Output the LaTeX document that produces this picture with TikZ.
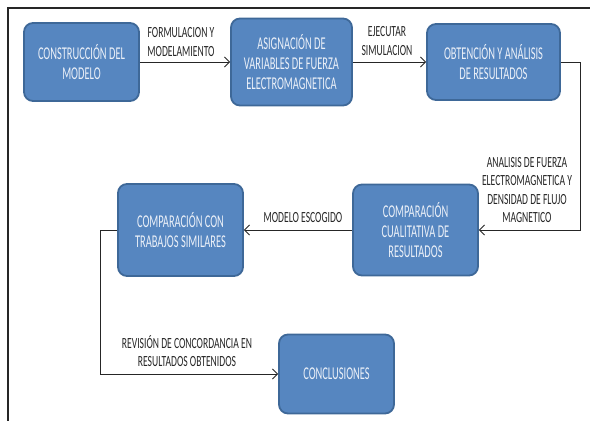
\documentclass[tikz,border=0pt]{standalone}
\usepackage{fontspec}
\setmainfont{Carlito}
\newfontfamily\boxfont[FakeStretch=0.58]{Carlito}
\newfontfamily\lblfont[FakeStretch=0.62]{Carlito}
\usetikzlibrary{arrows.meta,positioning}

\begin{document}
\begin{tikzpicture}
    [
        x=1pt, y=-1pt,
        myblock/.style={rectangle, rounded corners=9pt, fill={rgb,255:red,86;green,134;blue,192},
            draw={rgb,255:red,62;green,104;blue,152}, line width=1.8pt,
            text={rgb,255:red,235;green,240;blue,248}, align=center, inner sep=0pt,
            font=\boxfont\fontsize{18}{20}\selectfont},
        lineTh/.style={black!85, line width=0.9pt, -{Straight Barb[length=5pt,width=10pt]}},
        myLabel/.style={text=black!85, align=center, inner sep=0pt, font=\lblfont\fontsize{15.5}{18.5}\selectfont},
        frame/.style={black!85, line width=1.3pt}
    ]
    % page frame, only top and left
    \draw[frame] (590,8) -- (8,8) -- (8,421);

    % blocks
    \node[myblock, minimum width=115pt, minimum height=78pt] (constr) at (81.5,62) {CONSTRUCCIÓN DEL\\MODELO};
    \node[myblock, minimum width=121pt, minimum height=87pt] (asign) at (291.5,62) {ASIGNACIÓN DE\\VARIABLES DE FUERZA\\ELECTROMAGNETICA};
    \node[myblock, minimum width=133pt, minimum height=76pt] (obten) at (493.5,62) {OBTENCIÓN Y ANÁLISIS\\DE RESULTADOS};
    \node[myblock, minimum width=125pt, minimum height=91pt] (cualit) at (415.5,230) {COMPARACIÓN\\CUALITATIVA DE\\RESULTADOS};
    \node[myblock, minimum width=125pt, minimum height=92pt] (trabaj) at (180.5,230) {COMPARACIÓN CON\\TRABAJOS SIMILARES};
    \node[myblock, minimum width=115pt, minimum height=79pt] (concl) at (336.5,374) {CONCLUSIONES};

    \coordinate[] (bend1) at (580,230);
    \coordinate[] (bend2) at (100,374);

    % connectors
    \draw [lineTh] (constr) -- (asign);
    \draw [lineTh] (asign) -- (obten);
    \draw [lineTh] (obten.east) -| (bend1) -- (cualit.east);
    \draw [lineTh] (cualit) -- (trabaj);
    \draw [lineTh] (trabaj.west) -| (bend2) -- (concl.west);

    % labels
    \node[myLabel] (lblForm) at (181,42) {FORMULACION Y\\MODELAMIENTO};
    \node[myLabel] (lblEjec) at (387,41) {EJECUTAR\\SIMULACION};
    \node[myLabel] (lblAnal) at (527,190) {ANALISIS DE FUERZA\\ELECTROMAGNETICA Y\\DENSIDAD DE FLUJO\\MAGNETICO};
    \node[myLabel] (lblMod) at (303,218) {MODELO ESCOGIDO};
    \node[myLabel] (lblRev) at (187,351) {REVISIÓN DE CONCORDANCIA EN\\RESULTADOS OBTENIDOS};

    \pgfresetboundingbox
    \useasboundingbox (0,0) rectangle (590,421);
\end{tikzpicture}
\end{document}
